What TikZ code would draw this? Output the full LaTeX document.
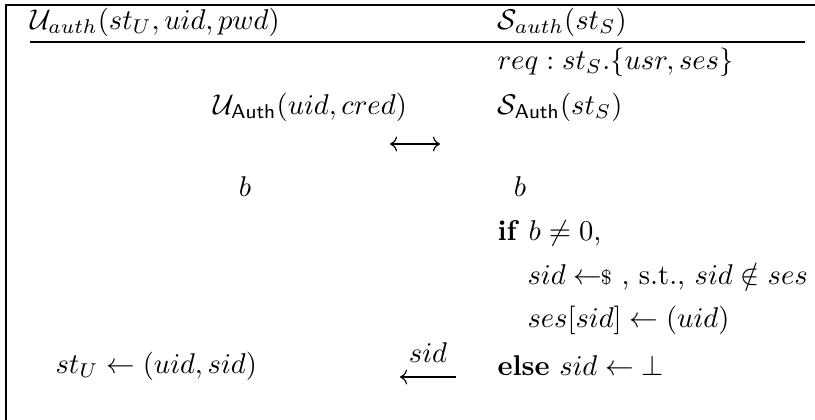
\documentclass[tikz,border=0pt]{standalone}
\usepackage{amsmath,amssymb}
\usepackage{xcolor}
\usepackage{tikz}
\usetikzlibrary{positioning,arrows.meta,calc}
\tikzset{
  step txt/.style={anchor=west, inner sep=0pt, font=\normalsize},
  mid txt/.style={anchor=center, inner sep=0pt, font=\normalsize},
  rule/.style={line width=0.5pt, draw=black},
  msg/.style={line width=0.4pt, draw=black},
}

\begin{document}
\begin{tikzpicture}[x=0.35pt, y=-0.35pt]
    \useasboundingbox (0,0) rectangle (815,420);
    % frame + header rule
    \draw[rule] (6,420) -- (6,5) -- (815,5);
    \draw[rule] (30,42) -- (805,42);
    % header
    \node[step txt] (uauth) at (30,22) {$\mathcal{U}_{auth}(st_U,uid,pwd)$};
    \node[step txt] (sauth) at (497,22) {$\mathcal{S}_{auth}(st_S)$};
    % server side
    \node[step txt] (req)   at (497,62)  {$req: st_S.\{usr,ses\}$};
    \node[step txt] (sAuth) at (497,107) {$\mathcal{S}_{\mathsf{Auth}}(st_S)$};
    \node[mid txt]  (bS)    at (520,187) {$b$};
    \node[step txt] (ifb)   at (497,233) {\textbf{if} $b\neq 0$,};
    \node[step txt] (pick)  at (527,277) {$sid \leftarrow\!\!{\scriptstyle\$}$ , s.t., $sid\notin ses$};
    \node[step txt] (store) at (527,320) {$ses[sid]\leftarrow(uid)$};
    \node[step txt] (els)   at (497,366) {\textbf{else} $sid\leftarrow\bot$};
    % user side
    \node[step txt] (uAuth) at (213,107) {$\mathcal{U}_{\mathsf{Auth}}(uid,cred)$};
    \node[mid txt]  (bU)    at (245,187) {$b$};
    \node[step txt] (stU)   at (55,366)  {$st_U\leftarrow(uid,sid)$};
    % messages
    \coordinate (run-l) at (390,144);
    \coordinate (run-r) at (440,144);
    \draw[msg,{To}-{To}] (run-l) -- (run-r);
    \coordinate (ret-l) at (400,377);
    \coordinate (ret-r) at (456,377);
    \draw[msg,{To}-] (ret-l) -- (ret-r) node[midway,above=5pt,inner sep=0pt] {$sid$};
  \end{tikzpicture}
\end{document}
